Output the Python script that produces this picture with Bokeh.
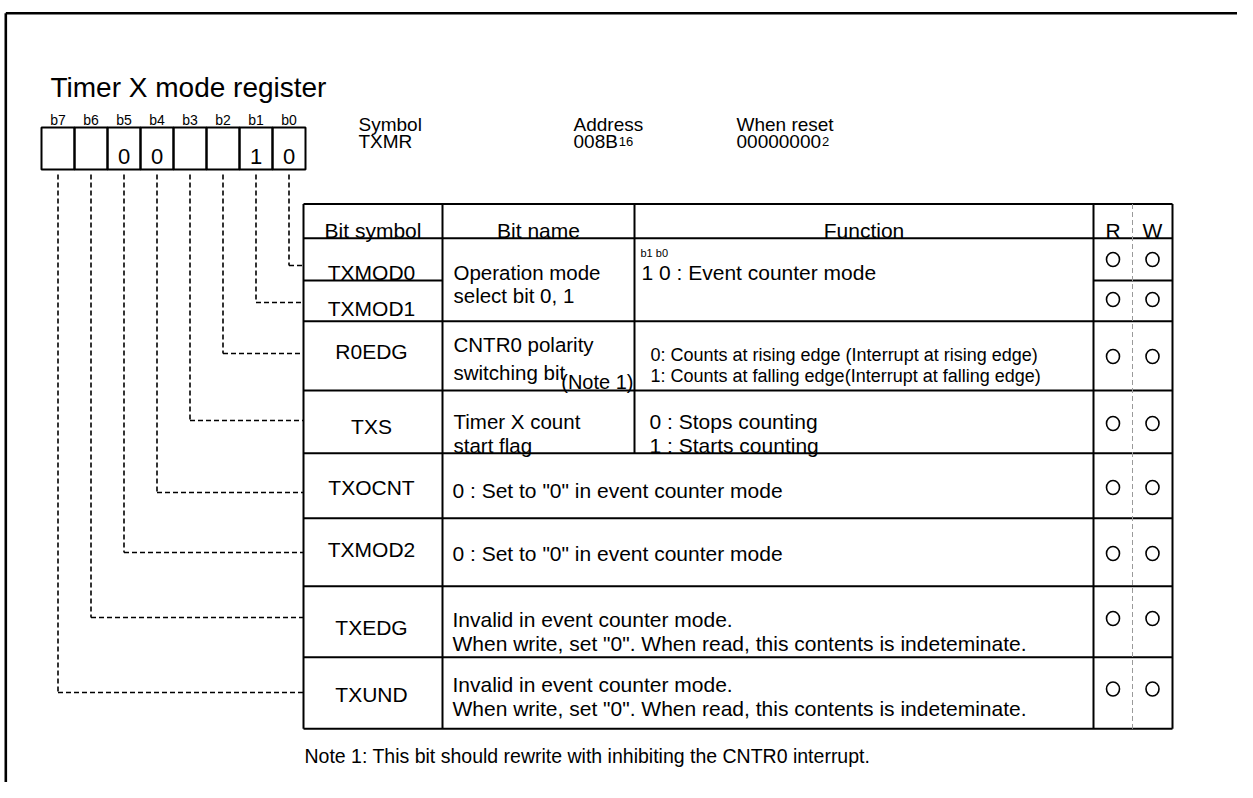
from bokeh.plotting import figure
from bokeh.models import Range1d, ColumnDataSource
from bokeh.embed import file_html
from bokeh.resources import INLINE
from bokeh.core.properties import value

FONT = "Liberation Sans"

# ---------------- data ----------------
title = "Timer X mode register"
bit_labels = ["b7", "b6", "b5", "b4", "b3", "b2", "b1", "b0"]
bit_values = ["", "", "0", "0", "", "", "1", "0"]
info_heads = ["Symbol", "Address", "When reset"]
info_main = ["TXMR", "008B", "00000000"]
info_sub = ["", "16", "2"]
header = ["Bit symbol", "Bit name", "Function", "R", "W"]
row_symbols = ["TXMOD0", "TXMOD1", "R0EDG", "TXS", "TXOCNT", "TXMOD2", "TXEDG", "TXUND"]
row_bits = ["b0", "b1", "b2", "b3", "b4", "b5", "b6", "b7"]
name_lines = {0: ["Operation mode", "select bit 0, 1"],
              2: ["CNTR0 polarity", "switching bit"],
              3: ["Timer X count", "start flag"]}
name_note = "(Note 1)"
func_small = "b1 b0"
func_lines = {0: ["1 0 : Event counter mode"],
              2: ["0: Counts at rising edge (Interrupt at rising edge)",
                  "1: Counts at falling edge(Interrupt at falling edge)"],
              3: ["0 : Stops counting", "1 : Starts counting"]}
merged_lines = {4: ['0 : Set to "0" in event counter mode'],
                5: ['0 : Set to "0" in event counter mode'],
                6: ["Invalid in event counter mode.",
                    'When write, set "0". When read, this contents is indeteminate.'],
                7: ["Invalid in event counter mode.",
                    'When write, set "0". When read, this contents is indeteminate.']}
read_marks = ["O", "O", "O", "O", "O", "O", "O", "O"]
write_marks = ["O", "O", "O", "O", "O", "O", "O", "O"]
note = "Note 1: This bit should rewrite with inhibiting the CNTR0 interrupt."

# ---------------- layout (picture pixels) ----------------
W, H = 1237, 782
p = figure(width=W, height=H, x_range=Range1d(0, W), y_range=Range1d(H, 0),
           output_backend="svg", toolbar_location=None, min_border=0,
           x_axis_type=None, y_axis_type=None)
p.grid.visible = False
p.outline_line_color = None
p.background_fill_color = "white"
p.border_fill_color = "white"


def txt(xs, ys, texts, size, align="left", baseline="alphabetic"):
    src = ColumnDataSource(dict(x=xs, y=ys, text=texts))
    p.text(x="x", y="y", text="text", source=src, text_font=value(FONT),
           text_font_size=value(f"{size}px"), text_align=value(align),
           text_baseline=value(baseline), text_color="black")


def segs(x0, y0, x1, y1, width=2.0, color="black", dash="solid"):
    src = ColumnDataSource(dict(x0=x0, y0=y0, x1=x1, y1=y1))
    p.segment(x0="x0", y0="y0", x1="x1", y1="y1", source=src, line_color=color,
              line_width=width, line_dash=dash)


# outer frame
segs([5.3, 5.3], [12.8, 12.8], [W, 5.3], [12.8, H], width=2.6)

# title
txt([50], [87], [title], 28)

# bit boxes
BX0, BW, BT, BB = 41, 33, 127, 169
cx = [BX0 + BW * i + BW / 2 for i in range(len(bit_labels))]
txt(cx, [119] * 8, bit_labels, 14, align="center")
p.quad(left=[BX0 + BW * i for i in range(8)], right=[BX0 + BW * (i + 1) for i in range(8)],
       top=[BT] * 8, bottom=[BB] * 8, fill_color=None, line_color="black", line_width=2)
txt(cx, [156] * 8, bit_values, 22, align="center")

# symbol / address / reset
INFO_X = [358, 573, 736]
txt(INFO_X, [124] * 3, info_heads, 19)
txt(INFO_X, [141] * 3, info_main, 19)
main_w = [0, 0.556 * 3 + 0.667, 0.556 * 8]
txt([INFO_X[i] + main_w[i] * 19 + 1 for i in range(3)], [141] * 3, info_sub, 13)

# table geometry
X = [303, 442, 634, 1093, 1132, 1172]
Y = [203.5, 237.7, 280, 320.7, 390, 452.7, 517.7, 585.7, 656.7, 728.3]

# horizontal lines
hx0, hy0, hx1 = [], [], []
for j, y in enumerate(Y):
    if j == 2:
        hx0 += [X[0], X[3]]; hx1 += [X[1], X[5]]; hy0 += [y, y]
    else:
        hx0.append(X[0]); hx1.append(X[5]); hy0.append(y)
segs(hx0, hy0, hx1, hy0, width=2)
# vertical lines
segs([X[0], X[1], X[2], X[3], X[5]], [Y[0]] * 5, [X[0], X[1], X[2], X[3], X[5]],
     [Y[-1], Y[-1], Y[5], Y[-1], Y[-1]], width=2)
segs([X[4]], [Y[0]], [X[4]], [Y[-1]], width=1, color="#9a9a9a", dash="5 3")

# header
txt([(X[0] + X[1]) / 2, (X[1] + X[2]) / 2, (X[2] + X[3]) / 2, (X[3] + X[4]) / 2, (X[4] + X[5]) / 2],
    [230] * 5, header, 21, align="center")

# bit symbols
SYM_Y = [272.3, 308.3, 350.7, 425.7, 487.3, 549, 626.7, 694]
txt([371] * 8, SYM_Y, row_symbols, 21, align="center")

# bit names
NAME_X = 453
NAME_Y = {0: [272.3, 295], 2: [344.3, 371.7], 3: [420.7, 444.5]}
nx, ny, nt = [], [], []
for r, lines in name_lines.items():
    for k, line in enumerate(lines):
        nx.append(NAME_X); ny.append(NAME_Y[r][k]); nt.append(line)
txt(nx, ny, nt, 20.5)
txt([633], [381.5], [name_note], 20, align="right")

# functions
FUNC_Y = {0: [272], 2: [354, 375], 3: [420.7, 444.5]}
FUNC_X = {0: 641, 2: 650, 3: 649}
FUNC_S = {0: 21, 2: 18, 3: 21}
for r, lines in func_lines.items():
    txt([FUNC_X[r]] * len(lines), FUNC_Y[r][:len(lines)], lines, FUNC_S[r])
txt([640], [252], [func_small], 11)

MERGED_Y = {4: [490], 5: [553.3], 6: [619.3, 643.3], 7: [684, 708.3]}
mx, my, mt = [], [], []
for r, lines in merged_lines.items():
    for k, line in enumerate(lines):
        mx.append(452); my.append(MERGED_Y[r][k]); mt.append(line)
txt(mx, my, mt, 21)

# R / W marks
RW_Y = [259, 299, 356, 423, 487, 553, 618, 688.5]
rx = [(X[3] + X[4]) / 2 for m in read_marks if m == "O"]
ry = [RW_Y[i] for i, m in enumerate(read_marks) if m == "O"]
wx = [(X[4] + X[5]) / 2 for m in write_marks if m == "O"]
wy = [RW_Y[i] for i, m in enumerate(write_marks) if m == "O"]
p.ellipse(x=rx + wx, y=ry + wy, width=13, height=14, fill_color=None,
          line_color="black", line_width=1.6)

# dashed connectors
CONN_Y = [265, 302, 353, 420, 492, 552, 617, 692]
vx0, vy0, vy1 = [], [], []
for r, b in enumerate(row_bits):
    i = bit_labels.index(b)
    vx0.append(cx[i]); vy0.append(BB + 5); vy1.append(CONN_Y[r])
segs(vx0, vy0, vx0, vy1, width=1.6, dash="5 3")
segs(vx0, vy1, [X[0]] * 8, vy1, width=1.6, dash="5 3")

# note
txt([304], [755], [note], 19.5)

open("out.html", "w").write(file_html(p, INLINE))
